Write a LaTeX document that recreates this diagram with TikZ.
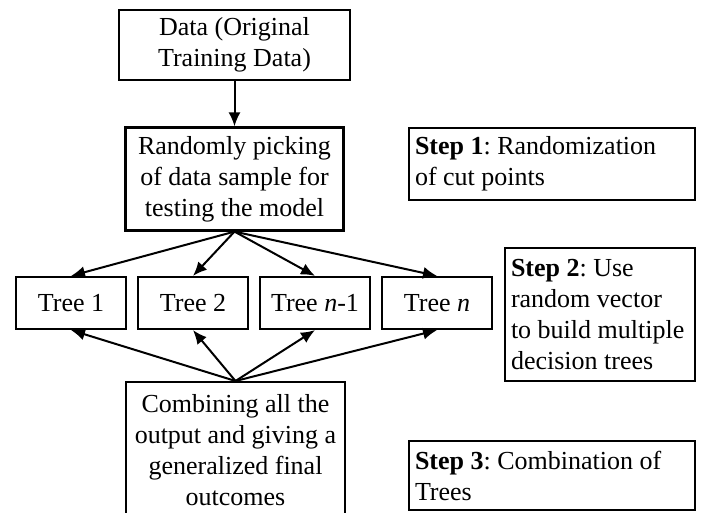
\documentclass[tikz,border=0pt]{standalone}
\usepackage{fontspec}
\setmainfont{Liberation Serif}
\usetikzlibrary{arrows.meta}
\frenchspacing

\begin{document}
\begin{tikzpicture}[x = 1pt, y = -1pt,
    box/.style = {draw, line width = 2.2pt, font = \fontsize{26}{31}\selectfont, align = flush center, inner sep = 0pt},
    tree/.style = {box, minimum width = 110pt, minimum height = 52pt},
    stepbox/.style = {box, align = flush left, inner xsep = 6pt},
    >={Latex[length = 14pt, width = 12pt]}]
  \useasboundingbox (0,0) rectangle (707,513);

  \node[box, minimum width = 231pt, minimum height = 70pt] (data) at (234.5,45) {Data (Original\\Training Data)};
  \node[box, minimum width = 218pt, minimum height = 103pt] (pick) at (234.5,179) {Randomly picking\\of data sample for\\testing the model};

  \node[tree] (t1) at (71,303)  {Tree 1};
  \node[tree] (t2) at (193,303) {Tree 2};
  \node[tree] (t3) at (315,303) {Tree \textit{n}-1};
  \node[tree] (t4) at (437,303) {Tree \textit{n}};

  \node[box, anchor = north, minimum width = 219pt, minimum height = 136pt] (comb) at (235.5,381) {Combining all the\\output and giving a\\generalized final\\outcomes};

  \node[stepbox, text width = 274pt, minimum height = 72pt] (s1) at (552,164) {\textbf{Step 1}: Randomization\\of cut points};
  \node[stepbox, text width = 178pt, minimum height = 133pt] (s2) at (600,314.5) {\textbf{Step 2}: Use\\random vector\\to build multiple\\decision trees};
  \node[stepbox, text width = 274pt, minimum height = 69pt] (s3) at (552,475.5) {\textbf{Step 3}: Combination of\\Trees};

  \path[->, line width = 2pt] (data) edge (pick)
    (pick.south) edge (t1.north)
    (pick.south) edge (t2.north)
    (pick.south) edge (t3.north)
    (pick.south) edge (t4.north)
    (comb.north) edge (t1.south)
    (comb.north) edge (t2.south)
    (comb.north) edge (t3.south)
    (comb.north) edge (t4.south);
\end{tikzpicture}
\end{document}
